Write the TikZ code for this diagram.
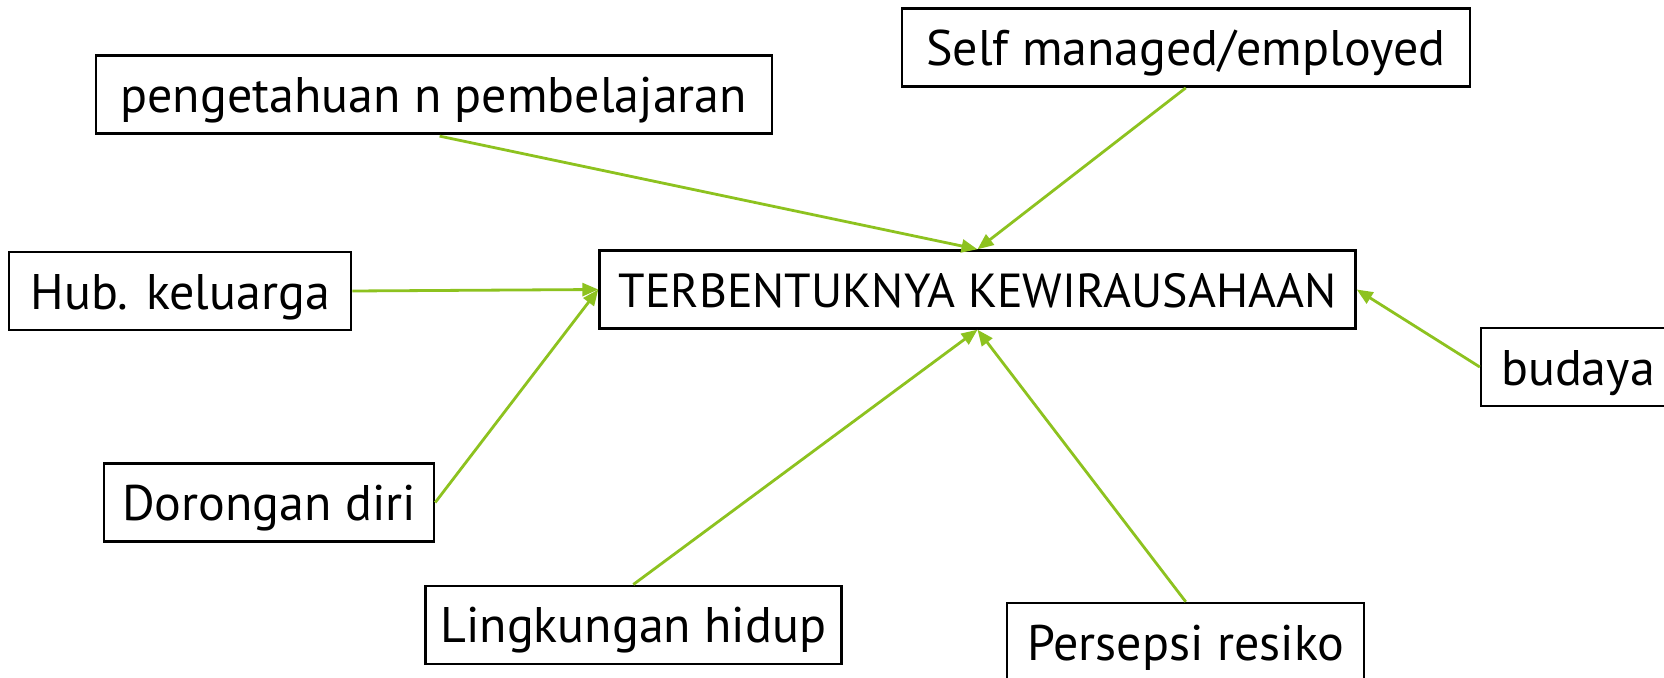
\documentclass[tikz,border=0pt]{standalone}
\usepackage{fontspec}
\setmainfont{PT Sans}
\usetikzlibrary{arrows.meta}
\definecolor{facetgreen}{HTML}{8DC21F}
\begin{document}
\begin{tikzpicture}[x=0.5pt,y=-0.5pt,
  box/.style={draw=black, line width=1.2pt, fill=white, inner sep=0pt,
    minimum height=39pt, text height=20pt, text depth=1.75pt,
    font=\fontsize{25}{30}\selectfont},
  link/.style={draw=facetgreen, line width=1.4pt, -{Triangle[length=8pt,width=6.5pt]}}]
\useasboundingbox[fill=white] (0,0) rectangle (1664,678);
\node[box, minimum width=338pt] (pen) at (433.75,94.7) {pengetahuan n pembelajaran};
\node[box, minimum width=284pt] (self) at (1185.75,47.7) {Self managed/employed};
\node[box, minimum width=171pt] (hub) at (180.25,291) {Hub. keluarga};
\node[box, minimum width=378pt, font=\fontsize{23.9}{30}\selectfont] (main) at (977.5,289.5) {TERBENTUKNYA KEWIRAUSAHAAN};
\node[box, minimum width=97pt] (bud) at (1578,367) {budaya};
\node[box, minimum width=165pt] (dor) at (269,502.5) {Dorongan diri};
\node[box, minimum width=208pt] (ling) at (633.3,624.7) {Lingkungan hidup};
\node[box, minimum width=178.5pt] (pers) at (1185.75,642) {Persepsi resiko};
\draw[link, shorten <=3pt] (pen.south) -- (main.north);
\draw[link] (self.south) -- (main.north);
\draw[link] (hub.east) -- (main.west);
\draw[link] (dor.east) -- (main.west);
\draw[link] (ling.north) -- (main.south);
\draw[link] (pers.north) -- (main.south);
\draw[link] (bud.west) -- (main.east);
\end{tikzpicture}
\end{document}
